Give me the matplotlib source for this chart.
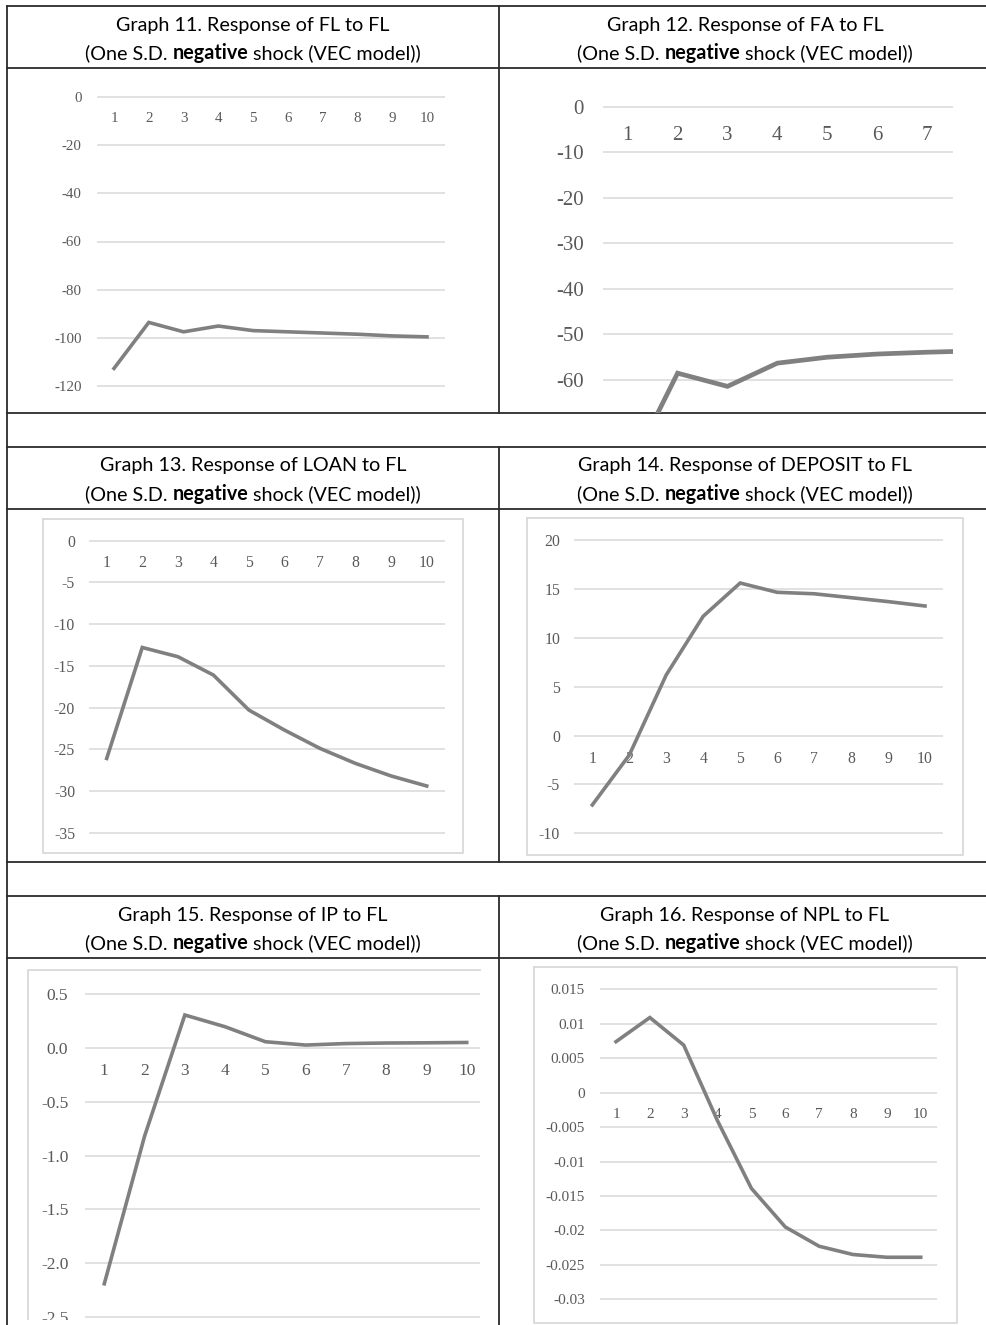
import matplotlib
matplotlib.use("Agg")
import matplotlib.pyplot as plt
from matplotlib.patches import Rectangle

# impulse responses, periods 1..10
periods = list(range(1, 11))
fl_fl = [-112.7, -93.6, -97.5, -95.1, -97.0, -97.5, -98.0, -98.5, -99.2, -99.6]
fa_fl = [-80.5, -58.5, -61.4, -56.3, -55.0, -54.3, -53.9, -53.6, -53.3, -53.0]
loan_fl = [-26.1, -12.8, -13.9, -16.1, -20.3, -22.7, -24.9, -26.7, -28.2, -29.4]
deposit_fl = [-7.1, -2.0, 6.2, 12.2, 15.6, 14.65, 14.5, 14.1, 13.7, 13.25]
ip_fl = [-2.19, -0.82, 0.305, 0.196, 0.057, 0.026, 0.04, 0.045, 0.047, 0.05]
npl_fl = [0.0074, 0.0109, 0.0069, -0.0041, -0.0139, -0.0195, -0.0223, -0.0235, -0.0239, -0.0239]

titles = ["Graph 11. Response of FL to FL", "Graph 12. Response of FA to FL",
          "Graph 13. Response of LOAN to FL", "Graph 14. Response of DEPOSIT to FL",
          "Graph 15. Response of IP to FL", "Graph 16. Response of NPL to FL"]
sub_pre, sub_bold, sub_post = "(One S.D. ", "negative", " shock (VEC model))"

yt11 = [0, -20, -40, -60, -80, -100, -120]
yl11 = ["0", "-20", "-40", "-60", "-80", "-100", "-120"]
yt12 = [0, -10, -20, -30, -40, -50, -60]
yl12 = ["0", "-10", "-20", "-30", "-40", "-50", "-60"]
yt13 = [0, -5, -10, -15, -20, -25, -30, -35]
yl13 = ["0", "-5", "-10", "-15", "-20", "-25", "-30", "-35"]
yt14 = [20, 15, 10, 5, 0, -5, -10]
yl14 = ["20", "15", "10", "5", "0", "-5", "-10"]
yt15 = [0.5, 0.0, -0.5, -1.0, -1.5, -2.0, -2.5]
yl15 = ["0.5", "0.0", "-0.5", "-1.0", "-1.5", "-2.0", "-2.5"]
yt16 = [0.015, 0.01, 0.005, 0, -0.005, -0.01, -0.015, -0.02, -0.025, -0.03]
yl16 = ["0.015", "0.01", "0.005", "0", "-0.005", "-0.01", "-0.015", "-0.02", "-0.025", "-0.03"]

W, H = 986, 1325
fig = plt.figure(figsize=(W / 100, H / 100), dpi=100)
bg = fig.add_axes([0, 0, 1, 1])
bg.set_xlim(0, W)
bg.set_ylim(H, 0)
bg.axis("off")

# table grid
tcol = "#2b2b2b"
for y in [6, 68, 413, 447, 509, 862, 896, 958]:
    bg.plot([7, W], [y, y], color=tcol, lw=1.3)
bg.plot([7, 7], [6, H], color=tcol, lw=1.3)
for y0, y1 in [(6, 413), (447, 862), (896, H)]:
    bg.plot([499, 499], [y0, y1], color=tcol, lw=1.3)

# light chart borders
bcol = "#d9d9d9"
for x0, y0, x1, y1 in [(43, 519, 463, 853), (526.7, 517.7, 963.3, 855), (534.3, 966.7, 956.7, 1323)]:
    bg.plot([x0, x1, x1, x0, x0], [y0, y0, y1, y1, y0], color=bcol, lw=1.3)
bg.plot([28.3, 28.3, 480], [1320, 970, 970], color=bcol, lw=1.3)

renderer = fig.canvas.get_renderer()
tfont = dict(family="Lato", fontsize=14.2, color="black")


def text_w(s, **kw):
    t = bg.text(0, 0, s, **kw)
    w = t.get_window_extent(renderer).width
    t.remove()
    return w


def title(cx, cy, line1):
    bg.text(cx, cy, line1, ha="center", va="center", **tfont)
    w_pre = text_w(sub_pre + "x", **tfont) - text_w("x", **tfont)
    w_bold = text_w(sub_bold, fontweight="bold", **tfont)
    w_post = text_w(sub_post, **tfont)
    x = cx - (w_pre + w_bold + w_post) / 2
    y = cy + 28
    bg.text(x, y, sub_pre, ha="left", va="center", **tfont)
    bg.text(x + w_pre, y, sub_bold, ha="left", va="center", fontweight="bold", **tfont)
    bg.text(x + w_pre + w_bold, y, sub_post, ha="left", va="center", **tfont)


for i, t in enumerate(titles):
    cx = 253 if i % 2 == 0 else 745
    cy = [25, 466, 915][i // 2]
    title(cx, cy, t)


def lin(pa, va, pb, vb, p):
    return va + (p - pa) * (vb - va) / (pb - pa)


def chart(series, yt, yl, box, yref, xref, fs, xpad, ypad, lw):
    x0, x1, ytop, ybot = box
    ax = fig.add_axes([x0 / W, 1 - ybot / H, (x1 - x0) / W, (ybot - ytop) / H])
    ax.set_facecolor("none")
    ax.plot(periods, series, color="#808080", lw=lw, solid_joinstyle="miter")
    ax.set_yticks(yt, yl)
    ax.set_xticks(periods, [str(p) for p in periods])
    ax.set_ylim(lin(*yref, ybot), lin(*yref, ytop))
    ax.set_xlim(lin(*xref, x0), lin(*xref, x1))
    for s in ax.spines.values():
        s.set_visible(False)
    ax.spines["bottom"].set_position(("data", 0))
    ax.tick_params(length=0, labelcolor="#595959", labelsize=fs)
    ax.tick_params(axis="x", pad=xpad)
    ax.tick_params(axis="y", pad=ypad)
    for lab in ax.get_xticklabels() + ax.get_yticklabels():
        lab.set_family("Liberation Serif")
    ax.yaxis.grid(True, color="#d9d9d9", lw=1.1)
    ax.set_axisbelow(True)
    return ax


chart(fl_fl, yt11, yl11, (97, 445, 90, 392), (97, 0, 386, -120), (114, 1, 427, 10), 10.8, 11, 11, 2.6)
chart(fa_fl, yt12, yl12, (603, 953, 100, 413), (106.7, 0, 380, -60), (627.7, 1, 927, 7), 15, 14, 14, 3.4)
chart(loan_fl, yt13, yl13, (89, 444.5, 534, 840), (540.7, 0, 832.7, -35), (106.7, 1, 426.7, 10), 11.3, 10, 10, 2.6)
chart(deposit_fl, yt14, yl14, (574, 943.3, 533, 841), (540, 20, 833.3, -10), (592.3, 1, 925, 10), 11.3, 11, 10, 2.6)
chart(ip_fl, yt15, yl15, (85, 480, 985, 1325), (994, 0.5, 1263.3, -2.0), (104.3, 1, 466.7, 10), 12.5, 11, 12, 2.6)
chart(npl_fl, yt16, yl16, (600, 936.7, 982, 1306), (989.3, 0.015, 1299.3, -0.03), (616, 1, 920.7, 10), 11, 11, 11, 2.6)

# the scanned page is cut just above the bottom edge in the left column
fig.add_artist(Rectangle((8 / W, 0), (490 / W), 5 / H, transform=fig.transFigure,
                         facecolor="white", edgecolor="none", zorder=10))

fig.savefig("out.png", dpi=100)
